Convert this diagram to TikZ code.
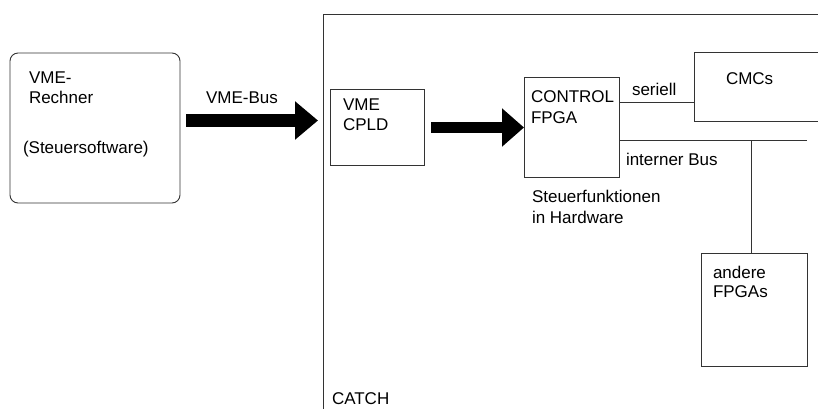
\documentclass[tikz,border=0pt]{standalone}
\usepackage{fontspec}
\setmainfont{Liberation Sans}
\usetikzlibrary{arrows.meta,calc}

\tikzset{
  box/.style={draw=black!80, line width=0.9pt, inner sep=0pt, outer sep=0pt,
              anchor=north west},
  wire/.style={draw=black!80, line width=0.9pt},
  lbl/.style={inner sep=0pt, outer sep=0pt, anchor=base west,
              font=\fontsize{17pt}{20pt}\selectfont},
  busarrowA/.style={line width=13pt, black,
                    -{Triangle[length=23pt,width=37pt]}},
  busarrowB/.style={line width=11pt, black,
                    -{Triangle[length=22pt,width=37pt]}},
}

\begin{document}
\begin{tikzpicture}[x=1pt, y=-1pt]
  \clip (0,0) rectangle (818,408);

  % host computer
  \node[box, rounded corners=8pt, minimum width=170pt, minimum height=150pt]
       (rechner) at (10,53) {};
  \node[lbl] (rA) at (29,83)  {VME-};
  \node[lbl] (rB) at (29,103) {Rechner};
  \node[lbl] (rC) at (23,153) {(Steuersoftware)};

  % CATCH board frame
  \node[box, minimum width=540pt, minimum height=430pt] (catch) at (323,14) {};
  \node[lbl] (catchlbl) at (332,404) {CATCH};

  % blocks on the board
  \node[box, minimum width=94pt, minimum height=76pt]  (cpld) at (330,89) {};
  \node[lbl] (cpA) at (343,110) {VME};
  \node[lbl] (cpB) at (343,130) {CPLD};

  \node[box, minimum width=95pt, minimum height=100pt] (fpga) at (524,77) {};
  \node[lbl] (fpA) at (531,102) {CONTROL};
  \node[lbl] (fpB) at (531,123) {FPGA};

  \node[box, minimum width=140pt, minimum height=69pt] (cmcs) at (694,52) {};
  \node[lbl] (cmlbl) at (726,84) {CMCs};

  \node[box, minimum width=106pt, minimum height=113pt] (andere) at (701,253) {};
  \node[lbl] (anA) at (713,278) {andere};
  \node[lbl] (anB) at (713,297) {FPGAs};

  % VME bus into the board
  \node[lbl] (buslbl) at (206,103) {VME-Bus};
  \draw[busarrowA] ($(rechner.east)+(6,-7.5)$) -- ($(rechner.east -| catch.west)+(-5,-7.5)$);

  % CPLD to control FPGA
  \draw[busarrowB] ($(cpld.east)+(7,0.5)$) -- ($(cpld.east -| fpga.west)+(0,0.5)$);

  % serial link to the CMCs
  \draw[wire] ($(fpga.east)+(0,-25)$) -- ($(fpga.east -| cmcs.west)+(0,-25)$);
  \node[lbl] (serlbl) at (632,95) {seriell};

  % internal bus
  \coordinate (busend) at (807,140);
  \coordinate (tap) at ($(andere.north)+(-2.5,0)$);
  \draw[wire] ($(fpga.east)+(0,13)$) -- (busend);
  \draw[wire] (tap) -- (tap |- busend);
  \node[lbl] (intlbl) at (626,165) {interner Bus};

  \node[lbl] (sfA) at (532,202) {Steuerfunktionen};
  \node[lbl] (sfB) at (532,223) {in Hardware};
\end{tikzpicture}
\end{document}
